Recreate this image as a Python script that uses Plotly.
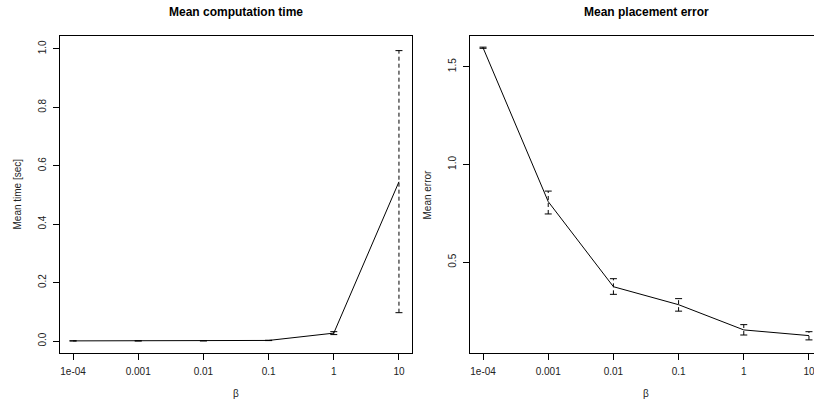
import plotly.graph_objects as go

W, H = 814, 401

beta = [1e-4, 1e-3, 1e-2, 0.1, 1, 10]
beta_labels = ["1e-04", "0.001", "0.01", "0.1", "1", "10"]

time_mean = [0.0005, 0.0006, 0.0008, 0.002, 0.027, 0.545]
time_lo = [0.0004, 0.0005, 0.0007, 0.0015, 0.022, 0.097]
time_hi = [0.0006, 0.0007, 0.0009, 0.0025, 0.032, 0.994]

err_mean = [1.597, 0.81, 0.375, 0.283, 0.154, 0.125]
err_lo = [1.594, 0.747, 0.336, 0.250, 0.128, 0.103]
err_hi = [1.600, 0.864, 0.416, 0.314, 0.181, 0.145]

left_yticks = [0.0, 0.2, 0.4, 0.6, 0.8, 1.0]
right_yticks = [0.5, 1.0, 1.5]

FONT = "Liberation Sans, Arial, sans-serif"
TXT = "#222222"


def px(p):
    return p / W


def py(p):
    return 1 - p / H


fig = go.Figure()


def add_panel(xa, ya, mean, lo, hi):
    xs, ys = [], []
    for b, l, h in zip(beta, lo, hi):
        xs += [b, b, None]
        ys += [l, h, None]
    fig.add_trace(go.Scatter(x=xs, y=ys, mode="lines", xaxis=xa, yaxis=ya,
                             line=dict(color="black", width=1, dash="4px,3px"),
                             showlegend=False, hoverinfo="skip"))
    fig.add_trace(go.Scatter(x=beta + beta, y=lo + hi, mode="markers", xaxis=xa, yaxis=ya,
                             marker=dict(symbol="line-ew", size=5,
                                         line=dict(color="black", width=1)),
                             showlegend=False, hoverinfo="skip"))
    fig.add_trace(go.Scatter(x=beta, y=mean, mode="lines", xaxis=xa, yaxis=ya,
                             line=dict(color="black", width=1),
                             showlegend=False))


add_panel("x", "y", time_mean, time_lo, time_hi)
add_panel("x2", "y2", err_mean, err_lo, err_hi)

tickfont = dict(family=FONT, size=10, color=TXT)

common_x = dict(type="log", tickmode="array", tickvals=beta, ticktext=beta_labels,
                ticks="outside", ticklen=6, tickcolor="black", tickwidth=1,
                showline=True, linecolor="black", linewidth=1, mirror=True,
                showgrid=False, zeroline=False, tickfont=tickfont,
                ticklabelstandoff=3, ticklabeloverflow="allow")
common_y = dict(ticks="outside", ticklen=6, tickcolor="black", tickwidth=1,
                showline=True, linecolor="black", linewidth=1,
                showgrid=False, zeroline=False, tickfont=tickfont, tickangle=-90,
                ticklabelstandoff=3)

fig.update_layout(
    width=W, height=H,
    margin=dict(l=0, r=0, t=0, b=0),
    paper_bgcolor="white", plot_bgcolor="white",
    xaxis=dict(domain=[px(60), px(412)], range=[-4.2, 1.2], anchor="y", **common_x),
    yaxis=dict(domain=[py(353), py(36)], range=[-0.041, 1.044], anchor="x",
               tickvals=left_yticks, ticktext=["0.0", "0.2", "0.4", "0.6", "0.8", "1.0"],
               mirror=True, **common_y),
    xaxis2=dict(domain=[px(470), 1.0], range=[-4.2, -4.2 + 344 * 5.4 / 352], anchor="y2",
                **common_x),
    yaxis2=dict(domain=[py(353), py(36)], range=[0.036, 1.657], anchor="x2",
                tickvals=right_yticks, ticktext=["0.5", "1.0", "1.5"],
                mirror=False, **common_y),
)

ann = []
ann.append(dict(text="<b>Mean computation time</b>", x=px(236), y=py(12),
                font=dict(family=FONT, size=12, color="black")))
ann.append(dict(text="<b>Mean placement error</b>", x=px(646), y=py(12),
                font=dict(family=FONT, size=12, color="black")))
ann.append(dict(text="β", x=px(236), y=py(393),
                font=dict(family=FONT, size=10, color=TXT)))
ann.append(dict(text="β", x=px(646), y=py(393),
                font=dict(family=FONT, size=10, color=TXT)))
ann.append(dict(text="Mean time [sec]", x=px(17), y=py(194.5), textangle=-90,
                font=dict(family=FONT, size=10, color=TXT)))
ann.append(dict(text="Mean error", x=px(427), y=py(194.5), textangle=-90,
                font=dict(family=FONT, size=10, color=TXT)))
for a in ann:
    a.update(xref="paper", yref="paper", xanchor="center", yanchor="middle",
             showarrow=False)
fig.update_layout(annotations=ann)

fig.write_html("out.html")
